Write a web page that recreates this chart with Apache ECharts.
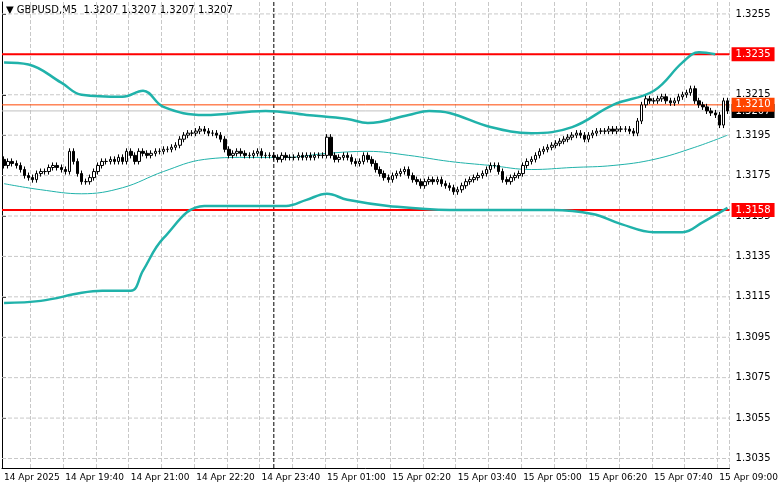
<!DOCTYPE html>
<html><head><meta charset="utf-8">
<script src="https://cdn.jsdelivr.net/npm/echarts@6/dist/echarts.min.js"></script>
<style>html,body{margin:0;padding:0;background:#fff}#c{width:781px;height:489px}</style>
</head><body><div id="c"></div>
<script>
const closes = [
1.3180,1.3182,1.3181,1.3180,1.3178,1.3175,1.3174,1.3173,1.3176,1.3177,
1.3177,1.3179,1.3180,1.3179,1.3178,1.3177,1.3187,1.3182,1.3176,1.3172,
1.3172,1.3174,1.3177,1.3180,1.3182,1.3182,1.3183,1.3182,1.3184,1.3182,
1.3187,1.3185,1.3182,1.3187,1.3186,1.3185,1.3186,1.3187,1.3187,1.3188,
1.3188,1.3189,1.3190,1.3193,1.3195,1.3196,1.3196,1.3197,1.3198,1.3197,
1.3196,1.3196,1.3195,1.3193,1.3188,1.3185,1.3186,1.3187,1.3186,1.3185,
1.3185,1.3186,1.3187,1.3185,1.3185,1.3185,1.3184,1.3183,1.3185,1.3184,
1.3184,1.3184,1.3185,1.3184,1.3185,1.3184,1.3185,1.3185,1.3185,1.3194,
1.3185,1.3183,1.3184,1.3185,1.3184,1.3182,1.3181,1.3182,1.3185,1.3183,
1.3181,1.3178,1.3176,1.3174,1.3173,1.3175,1.3176,1.3177,1.3178,1.3175,
1.3173,1.3172,1.3170,1.3172,1.3173,1.3172,1.3173,1.3171,1.3170,1.3169,
1.3167,1.3168,1.3170,1.3172,1.3173,1.3174,1.3175,1.3176,1.3178,1.3180,
1.3180,1.3177,1.3173,1.3172,1.3174,1.3175,1.3176,1.3180,1.3182,1.3183,
1.3185,1.3187,1.3188,1.3189,1.3190,1.3191,1.3192,1.3193,1.3194,1.3195,
1.3196,1.3195,1.3193,1.3195,1.3196,1.3197,1.3197,1.3197,1.3198,1.3197,
1.3198,1.3198,1.3198,1.3197,1.3196,1.3202,1.3210,1.3213,1.3212,1.3212,
1.3213,1.3214,1.3212,1.3211,1.3212,1.3214,1.3215,1.3216,1.3218,1.3212,
1.3210,1.3209,1.3207,1.3206,1.3205,1.3200,1.3212,1.3207];
const firstOpen = 1.3183;
const wick = 0.0003;
const upperBand = [[0,1.3231],[6,1.3230],[14,1.3221],[19,1.3215],[29,1.3214],[34,1.3217],[39,1.3209],[49,1.3205],[64,1.3207],[74,1.3205],[84,1.3203],[89,1.3201],[99,1.3205],[104,1.3207],[109,1.3206],[119,1.3199],[129,1.3196],[139,1.3199],[149,1.3210],[159,1.3217],[166,1.3231],[170,1.3236],[174,1.3235]];
const middleBand = [[0,1.3171],[9,1.3168],[19,1.3166],[29,1.3169],[39,1.3177],[49,1.3183],[59,1.3184],[69,1.3184],[79,1.3186],[89,1.3187],[99,1.3185],[109,1.3182],[119,1.3180],[129,1.3178],[139,1.3179],[149,1.3180],[159,1.3183],[169,1.3189],[177,1.3195]];
const lowerBand = [[0,1.3112],[9,1.3113],[19,1.3117],[24,1.3118],[31,1.3118],[34,1.3128],[39,1.3144],[49,1.3160],[59,1.3160],[69,1.3160],[74,1.3163],[79,1.3166],[84,1.3163],[94,1.3160],[109,1.3158],[124,1.3158],[134,1.3158],[144,1.3156],[151,1.3151],[159,1.3147],[166,1.3147],[171,1.3152],[177,1.3159]];
const yTicks = [1.3035,1.3055,1.3075,1.3095,1.3115,1.3135,1.3155,1.3175,1.3195,1.3215,1.3235,1.3255];
const levels = {res:1.3235, sup:1.3158, orange:1.3210, last:1.3207};
const startTime = {day:14, h:18, m:25};
const vLineIndex = 66;
const yMin = 1.30303, yMax = 1.32609;

const cats=[];
for(let i=0;i<closes.length;i++){
  let t=startTime.h*60+startTime.m+5*i, d=startTime.day;
  if(t>=1440){t-=1440;d+=1;}
  cats.push(d+' Apr '+String(Math.floor(t/60)).padStart(2,'0')+':'+String(t%60).padStart(2,'0'));
}
const candles=closes.map((c,i)=>{const o=i?closes[i-1]:firstOpen;return [o,c,Math.min(o,c)-wick*0.5,Math.max(o,c)+wick*0.5];});
const font='DejaVu Sans';
const chart=echarts.init(document.getElementById('c'));
const hline=(v,color,width,type,labelBg,z)=>({type:'line',xAxisIndex:1,data:[[0,v],[1,v]],symbol:'none',silent:true,z:z,
  lineStyle:{color:color,width:width,type:type},
  endLabel:labelBg?{show:true,distance:2,backgroundColor:labelBg,color:'#fff',fontFamily:font,fontSize:10,padding:[2,4,2,4],formatter:()=>v.toFixed(4)}:{show:false}});
const series=[];
yTicks.forEach(v=>series.push(hline(v,'#c8c8c8',1,'dashed',null,1)));
series.push({type:'line',data:[[vLineIndex,yMin],[vLineIndex,yMax]],symbol:'none',silent:true,lineStyle:{color:'#000',width:1,type:'dashed'},z:2});
series.push({type:'line',data:upperBand,smooth:0.4,symbol:'none',lineStyle:{color:'#20b2aa',width:2.5},z:3});
series.push({type:'line',data:middleBand,smooth:0.4,symbol:'none',lineStyle:{color:'#20b2aa',width:1},z:3});
series.push({type:'line',data:lowerBand,smooth:0.4,symbol:'none',lineStyle:{color:'#20b2aa',width:2.5},z:3});
series.push(hline(levels.last,'#c0c0c0',1,'solid','#000',2));
series.push(hline(levels.orange,'#ff4500',1,'solid','#ff4500',2));
series.push(hline(levels.res,'#ff0000',2,'solid','#ff0000',2));
series.push(hline(levels.sup,'#ff0000',2,'solid','#ff0000',2));
series.push({type:'candlestick',data:candles,barWidth:3,z:4,
  itemStyle:{color:'#fff',color0:'#000',borderColor:'#000',borderColor0:'#000',borderWidth:1}});
chart.setOption({
  animation:false,
  grid:{left:2,right:44,top:2,bottom:21},
  graphic:[{type:'text',left:6,top:5,style:{text:'▼ GBPUSD,M5  1.3207 1.3207 1.3207 1.3207',fontFamily:font,fontSize:10,fill:'#000'}}],
  xAxis:[{type:'category',data:cats,boundaryGap:true,
    axisLine:{lineStyle:{color:'#000'}},axisTick:{interval:i=>i%16===15||i===0,length:4,lineStyle:{color:'#000'}},
    axisLabel:{interval:i=>i%16===15||i===0,color:'#000',fontFamily:font,fontSize:9,align:'left',margin:5,
      formatter:(v,i)=>i===0?'14 Apr 2025':v},
    splitLine:{show:true,interval:i=>i%8===7,lineStyle:{type:'dashed',color:'#c8c8c8'}}},
    {type:'value',min:0,max:1,show:false}],
  yAxis:{type:'value',position:'right',min:yMin,max:yMax,
    axisLine:{show:true,lineStyle:{color:'#000'}},
    axisTick:{show:true,customValues:yTicks,length:4,lineStyle:{color:'#000'}},
    axisLabel:{customValues:yTicks,color:'#000',fontFamily:font,fontSize:10,margin:6,formatter:v=>v.toFixed(4)},
    splitLine:{show:false}},
  series:series
});
</script></body></html>
